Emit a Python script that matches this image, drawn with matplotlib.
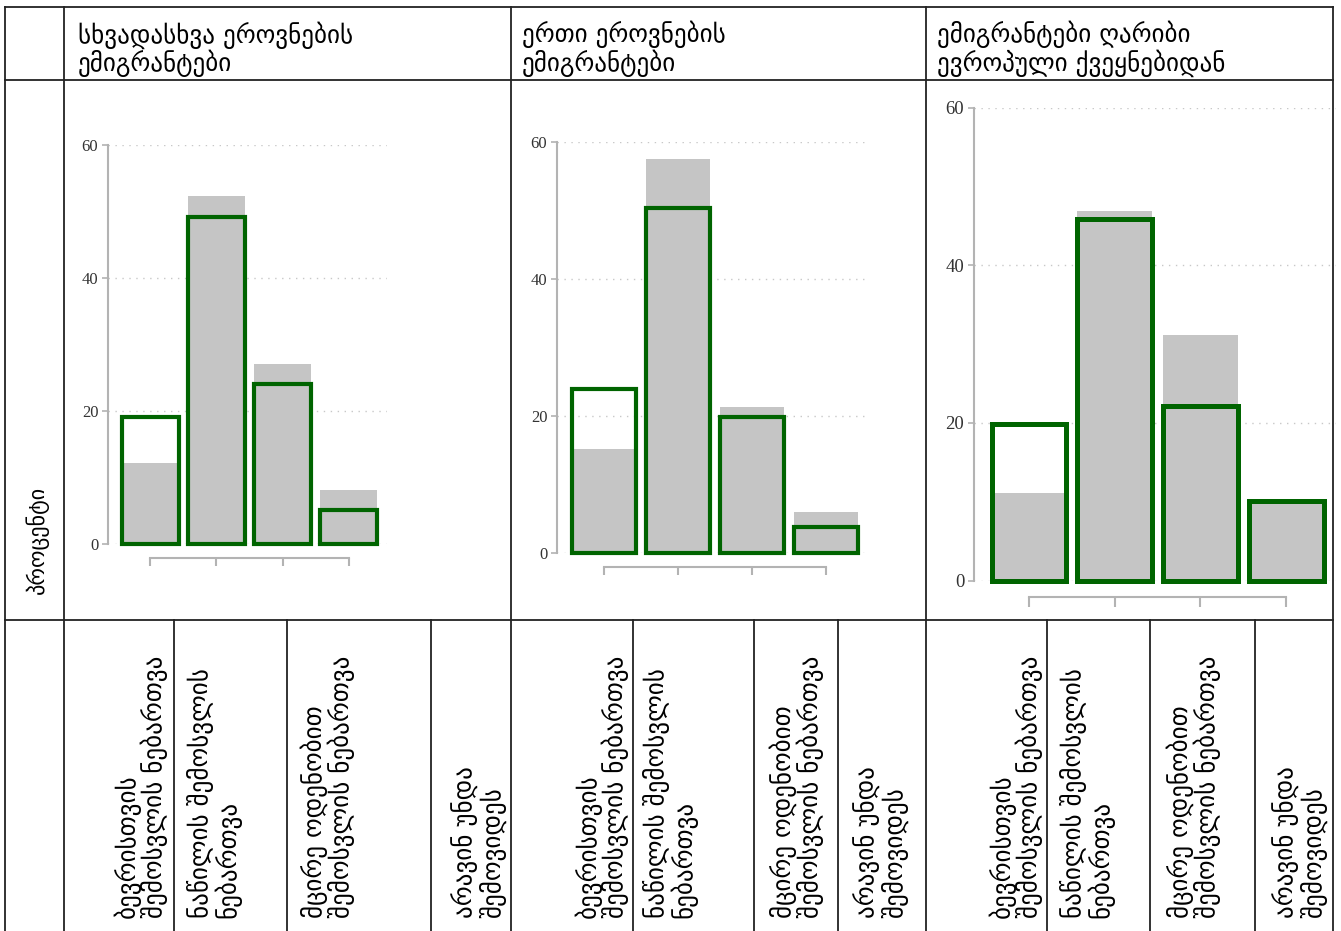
import matplotlib
matplotlib.use("Agg")
import matplotlib.pyplot as plt
import numpy as np

# column headers (three groups of immigrants)
groups = [
    "სხვადასხვა ეროვნების\nემიგრანტები",
    "ერთი ეროვნების\nემიგრანტები",
    "ემიგრანტები ღარიბი\nევროპული ქვეყნებიდან",
]

# answer categories (rotated labels in the bottom row)
categories = [
    "ბევრისთვის\nშემოსვლის ნებართვა",
    "ნაწილის შემოსვლის\nნებართვა",
    "მცირე ოდენობით\nშემოსვლის ნებართვა",
    "არავინ უნდა\nშემოვიდეს",
]

ylabel = "პროცენტი"
yticks = [0, 20, 40, 60]

# grey filled bars, percent
grey_vals = [
    [12.2, 52.3, 27.1, 8.1],
    [15.2, 57.5, 21.3, 6.0],
    [11.1, 46.9, 31.2, 10.0],
]

# green outlined bars, percent
green_vals = [
    [19.1, 49.2, 24.0, 5.1],
    [24.0, 50.4, 19.9, 3.8],
    [19.9, 45.9, 22.1, 10.1],
]

W, H = 1341, 931
fig = plt.figure(figsize=(W / 100, H / 100), dpi=100)
fig.patch.set_facecolor("white")

# table drawn on a full-figure axes in pixel units
bg = fig.add_axes([0, 0, 1, 1])
bg.set_xlim(0, W)
bg.set_ylim(H, 0)
bg.axis("off")

line_kw = dict(color="#222222", lw=1.3)
col_x = [5, 64, 511, 926, 1333]
row_y = [7, 80, 620, H + 5]
for x in col_x:
    bg.plot([x, x], [row_y[0], row_y[-1]], **line_kw)
for y in row_y[:-1]:
    bg.plot([col_x[0], col_x[-1]], [y, y], **line_kw)

# sub-cells in the bottom row
sub_x = [174, 287, 431, 633, 754, 838, 1047, 1150, 1255]
for x in sub_x:
    bg.plot([x, x], [620, row_y[-1]], **line_kw)

fs = 18
head_x = [78, 522, 937]
for x, g in zip(head_x, groups):
    bg.text(x, 49, g, fontsize=fs, ha="left", va="center", linespacing=1.05)

bg.text(37, 540, ylabel, fontsize=16, rotation=90, ha="center", va="center")

lab_x = [113, 187, 300, 452, 574, 643, 769, 854, 988, 1060, 1166, 1273]
for i, x in enumerate(lab_x):
    bg.text(x, 918, categories[i % 4], fontsize=fs, rotation=90,
            ha="left", va="bottom", linespacing=1.0)

# chart boxes in pixels: left, right, y at 0, y at 60
boxes = [
    (108, 387, 544, 145),
    (557, 869, 553, 142),
    (974, 1336, 580.5, 107.6),
]
offsets = [14, 14, 16.5]
lws = [3.0, 3.0, 3.6]
fsz = [12, 12, 13.5]

xpos = np.arange(len(categories))
for k, (l, r, y0, y60) in enumerate(boxes):
    ax = fig.add_axes([l / W, (H - y0) / H, (r - l) / W, (y0 - y60) / H])
    ax.patch.set_alpha(0)
    ax.bar(xpos, grey_vals[k], width=0.87, color="#c5c5c5", zorder=2)
    ax.bar(xpos, green_vals[k], width=0.87, facecolor="none",
           edgecolor="#006400", lw=lws[k], zorder=3, clip_on=False)
    ax.set_xlim(-0.64, 3.58)
    ax.set_ylim(0, 60)
    ax.set_yticks(yticks)
    ax.yaxis.grid(True, linestyle=(0, (1, 4)), color="#c8c8c8", lw=1)
    ax.set_axisbelow(True)
    for s in ["top", "right"]:
        ax.spines[s].set_visible(False)
    ax.spines["left"].set_bounds(0, 60)
    ax.spines["left"].set_color("#b3b3b3")
    ax.spines["left"].set_linewidth(1.5)
    ax.spines["bottom"].set_position(("outward", offsets[k] * 0.72))
    ax.spines["bottom"].set_bounds(0, 3)
    ax.spines["bottom"].set_color("#b3b3b3")
    ax.spines["bottom"].set_linewidth(1.5)
    ax.set_xticks(xpos)
    ax.set_xticklabels([])
    ax.tick_params(axis="x", length=offsets[k] * 0.42, width=1.5, color="#b3b3b3")
    ax.tick_params(axis="y", length=4, width=1.2, color="#b3b3b3",
                   labelsize=fsz[k], labelcolor="#333333", pad=3)
    for t in ax.get_yticklabels():
        t.set_fontfamily("Liberation Serif")

fig.savefig("out.png", dpi=100, facecolor="white")
